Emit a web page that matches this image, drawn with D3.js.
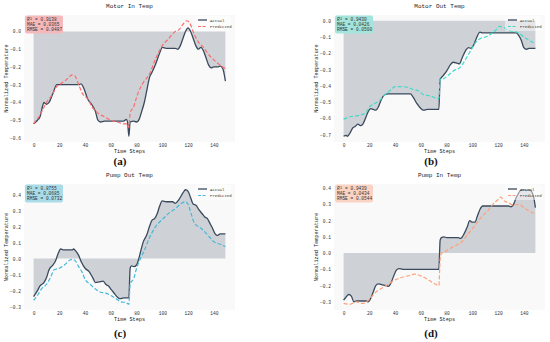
<!DOCTYPE html>
<html><head><meta charset="utf-8">
<script src="https://cdn.jsdelivr.net/npm/d3@7"></script>
<style>
html,body{margin:0;padding:0;background:#fff;}
svg{display:block;}
</style></head>
<body><svg id="chart" width="550" height="342"></svg>
<script>
// ---------------- DATA ----------------
const panelTitles = ["Motor In Temp", "Motor Out Temp", "Pump Out Temp", "Pump In Temp"];
const panelTags = ["(a)", "(b)", "(c)", "(d)"];
const seriesNames = ["Actual", "Predicted"];
const xTicks = [0, 20, 40, 60, 80, 100, 120, 140];
const statR2 = ["0.9138", "0.9430", "0.8755", "0.9439"];
const statMAE = ["0.0365", "0.0426", "0.0685", "0.0434"];
const statRMSE = ["0.0487", "0.0500", "0.0732", "0.0544"];

// (a) Motor In Temp
const motorInActualT = [0,3,5,7,8,10,12,15,18,20,25,30,35,37,39,42,45,48,50,52,55,60,65,70,72,73,74,75,78,80,82,84,86,88,90,92,95,98,100,103,106,110,112,114,116,118,120,122,124,126,128,130,132,134,136,138,140,143,145,147,149];
const motorInActual = [-0.52,-0.50,-0.48,-0.42,-0.40,-0.41,-0.40,-0.35,-0.30,-0.30,-0.30,-0.30,-0.30,-0.295,-0.32,-0.38,-0.41,-0.45,-0.50,-0.51,-0.505,-0.505,-0.505,-0.505,-0.495,-0.51,-0.59,-0.51,-0.505,-0.51,-0.495,-0.45,-0.40,-0.33,-0.26,-0.23,-0.18,-0.12,-0.09,-0.095,-0.095,-0.095,-0.10,-0.08,-0.04,0.00,0.02,0.00,-0.04,-0.08,-0.10,-0.09,-0.11,-0.15,-0.19,-0.205,-0.20,-0.20,-0.195,-0.21,-0.28];
const motorInPredT = [0,5,10,15,18,20,25,30,32,35,38,42,45,50,55,60,65,70,73,74,75,78,80,85,90,95,100,105,110,113,116,119,121,125,128,132,136,140,145,149];
const motorInPred = [-0.52,-0.47,-0.40,-0.35,-0.31,-0.30,-0.275,-0.245,-0.25,-0.30,-0.35,-0.38,-0.42,-0.46,-0.48,-0.50,-0.51,-0.52,-0.52,-0.54,-0.46,-0.42,-0.37,-0.29,-0.24,-0.15,-0.08,-0.04,0.00,0.01,0.04,0.06,0.05,-0.02,-0.06,-0.09,-0.13,-0.16,-0.19,-0.21];

// (b) Motor Out Temp
const motorOutActualT = [0,2,3,5,7,9,11,13,15,17,19,21,23,25,27,29,32,35,40,45,52,54,57,60,62,65,70,74,75,77,80,83,85,88,90,92,95,97,99,101,103,106,108,110,120,130,134,136,138,140,142,144,149];
const motorOutActual = [-0.71,-0.705,-0.71,-0.69,-0.66,-0.65,-0.635,-0.645,-0.635,-0.60,-0.56,-0.54,-0.545,-0.55,-0.53,-0.49,-0.455,-0.45,-0.45,-0.45,-0.45,-0.47,-0.51,-0.54,-0.55,-0.545,-0.545,-0.545,-0.36,-0.34,-0.31,-0.27,-0.255,-0.26,-0.265,-0.23,-0.18,-0.165,-0.17,-0.15,-0.11,-0.07,-0.075,-0.075,-0.075,-0.075,-0.075,-0.09,-0.12,-0.165,-0.175,-0.17,-0.17];
const motorOutPredT = [0,5,10,15,18,20,24,28,32,36,40,45,50,55,58,62,66,70,74,75,78,82,86,90,93,96,99,102,106,110,114,118,121,124,128,132,136,140,144,149];
const motorOutPred = [-0.605,-0.59,-0.585,-0.575,-0.56,-0.53,-0.51,-0.49,-0.455,-0.43,-0.405,-0.405,-0.41,-0.425,-0.43,-0.455,-0.46,-0.47,-0.48,-0.36,-0.355,-0.33,-0.305,-0.29,-0.26,-0.22,-0.18,-0.14,-0.11,-0.10,-0.085,-0.06,-0.035,-0.04,-0.06,-0.065,-0.075,-0.10,-0.12,-0.14];

// (c) Pump Out Temp
const pumpOutActualT = [0,3,5,8,10,12,15,17,19,21,23,25,30,31,33,35,37,40,43,46,48,51,54,56,58,60,62,65,67,70,74,75,76,78,80,81,83,85,88,90,92,94,96,98,100,103,108,110,113,116,118,120,122,124,126,128,131,133,135,137,139,141,143,145,149];
const pumpOutActual = [-0.237,-0.20,-0.17,-0.15,-0.12,-0.07,-0.04,-0.015,0.03,0.06,0.055,0.055,0.055,0.06,0.045,0.02,-0.02,-0.06,-0.08,-0.12,-0.15,-0.145,-0.14,-0.16,-0.17,-0.19,-0.21,-0.24,-0.25,-0.245,-0.245,-0.06,-0.045,-0.05,-0.04,-0.02,0.04,0.10,0.15,0.20,0.24,0.25,0.28,0.33,0.36,0.355,0.355,0.345,0.37,0.41,0.43,0.42,0.38,0.34,0.335,0.31,0.28,0.26,0.25,0.22,0.19,0.155,0.145,0.155,0.155];
const pumpOutPredT = [0,3,6,10,13,16,20,24,28,30,32,35,38,40,44,48,52,56,60,64,68,72,74,75,78,80,83,86,90,94,98,102,106,110,114,118,120,122,125,130,135,140,145,149];
const pumpOutPred = [-0.26,-0.23,-0.19,-0.16,-0.12,-0.07,-0.06,-0.04,-0.01,-0.005,-0.01,-0.05,-0.09,-0.13,-0.16,-0.19,-0.21,-0.215,-0.23,-0.25,-0.27,-0.275,-0.285,-0.16,-0.12,-0.06,0.00,0.05,0.13,0.19,0.23,0.26,0.29,0.31,0.34,0.355,0.34,0.29,0.22,0.19,0.15,0.105,0.09,0.075];

// (d) Pump In Temp
const pumpInActualT = [0,2,4,6,8,10,12,18,19,21,23,25,27,30,33,35,37,39,41,43,46,50,60,74,75,76,78,80,89,91,93,96,98,100,102,104,106,108,110,120,128,130,132,134,136,138,140,142,144,146,148,149];
const pumpInActual = [-0.29,-0.27,-0.255,-0.265,-0.30,-0.295,-0.295,-0.295,-0.30,-0.28,-0.24,-0.20,-0.19,-0.195,-0.20,-0.205,-0.18,-0.14,-0.105,-0.095,-0.10,-0.10,-0.10,-0.10,0.08,0.095,0.10,0.095,0.095,0.09,0.11,0.16,0.20,0.19,0.19,0.23,0.27,0.29,0.29,0.29,0.29,0.285,0.30,0.34,0.37,0.39,0.39,0.385,0.39,0.38,0.33,0.28];
const pumpInPredT = [0,5,10,15,20,25,30,35,40,45,50,55,60,65,70,74,75,76,78,81,84,88,92,96,100,104,108,112,116,120,122,125,128,132,136,140,144,149];
const pumpInPred = [-0.31,-0.315,-0.30,-0.31,-0.285,-0.24,-0.215,-0.19,-0.165,-0.15,-0.14,-0.13,-0.14,-0.16,-0.185,-0.20,-0.04,0.00,0.005,0.02,0.035,0.05,0.07,0.11,0.15,0.19,0.23,0.26,0.30,0.33,0.345,0.32,0.31,0.295,0.30,0.28,0.26,0.24];

const predColors = ["#ff6b6b", "#40d9c8", "#45b8d8", "#ffa07a"];
const boxColors = ["#f6b9bb", "#a3e4dc", "#a9dbe8", "#fad3c3"];

// ---------------- LAYOUT ----------------
const panels = [
  {x0: 24, x1: 235, y0: 15, y1: 142, tagX: 120, tagY: 165, at: motorInActualT, av: motorInActual, pt: motorInPredT, pv: motorInPred},
  {x0: 334, x1: 545, y0: 15, y1: 142, tagX: 431, tagY: 165, at: motorOutActualT, av: motorOutActual, pt: motorOutPredT, pv: motorOutPred},
  {x0: 24, x1: 235, y0: 184, y1: 310, tagX: 120, tagY: 337, at: pumpOutActualT, av: pumpOutActual, pt: pumpOutPredT, pv: pumpOutPred},
  {x0: 334, x1: 545, y0: 184, y1: 310, tagX: 431, tagY: 337, at: pumpInActualT, av: pumpInActual, pt: pumpInPredT, pv: pumpInPred}
];

const svg = d3.select("#chart");
const mono = "'Liberation Mono', 'DejaVu Sans Mono', monospace";
const fmt = v => d3.format(".1f")(v).replace("-", "\u2212");

panels.forEach((p, i) => {
  const g = svg.append("g");
  const x = d3.scaleLinear().domain([-7.45, 156.45]).range([p.x0, p.x1]);
  const all = p.av.concat(p.pv, [0]);
  const lo = d3.min(all), hi = d3.max(all), m = (hi - lo) * 0.05;
  const y = d3.scaleLinear().domain([lo - m, hi + m]).range([p.y1, p.y0]);

  // plot background
  g.append("rect").attr("x", p.x0).attr("y", p.y0).attr("width", p.x1 - p.x0).attr("height", p.y1 - p.y0).attr("fill", "#f9f9fa");

  const actual = p.at.map((t, k) => ({t, v: p.av[k]}));
  const pred = p.pt.map((t, k) => ({t, v: p.pv[k]}));

  // fill between actual and 0
  g.append("path").datum(actual)
    .attr("d", d3.area().x(d => x(d.t)).y0(y(0)).y1(d => y(d.v)).curve(d3.curveMonotoneX))
    .attr("fill", "#ced2d7");

  // actual line
  g.append("path").datum(actual)
    .attr("d", d3.line().x(d => x(d.t)).y(d => y(d.v)).curve(d3.curveMonotoneX))
    .attr("fill", "none").attr("stroke", "#3a4a5c").attr("stroke-width", 1.3);

  // predicted line
  g.append("path").datum(pred)
    .attr("d", d3.line().x(d => x(d.t)).y(d => y(d.v)).curve(d3.curveMonotoneX))
    .attr("fill", "none").attr("stroke", predColors[i]).attr("stroke-width", 1.2)
    .attr("stroke-dasharray", "4,2");

  // axes
  const yt = d3.range(Math.ceil((lo - m) * 10), Math.floor((hi + m) * 10) + 1).map(k => k / 10);
  const xa = g.append("g").attr("transform", `translate(0,${p.y1})`)
    .call(d3.axisBottom(x).tickValues(xTicks).tickSize(0).tickPadding(2));
  const ya = g.append("g").attr("transform", `translate(${p.x0},0)`)
    .call(d3.axisLeft(y).tickValues(yt).tickFormat(fmt).tickSize(0).tickPadding(3));
  [xa, ya].forEach(a => {
    a.select(".domain").remove();
    a.selectAll("text").attr("font-family", mono).attr("font-size", 4.6).attr("fill", "#333");
  });

  // titles and labels
  g.append("text").attr("x", (p.x0 + p.x1) / 2).attr("y", p.y0 - 7)
    .attr("text-anchor", "middle").attr("font-family", mono).attr("font-size", 6).attr("fill", "#222")
    .text(panelTitles[i]);
  g.append("text").attr("x", (p.x0 + p.x1) / 2).attr("y", p.y1 + 11)
    .attr("text-anchor", "middle").attr("font-family", mono).attr("font-size", 5.2).attr("fill", "#222")
    .text("Time Steps");
  g.append("text").attr("transform", `translate(${p.x0 - 16},${(p.y0 + p.y1) / 2}) rotate(-90)`)
    .attr("text-anchor", "middle").attr("font-family", mono).attr("font-size", 5.2).attr("fill", "#222")
    .text("Normalized Temperature");
  g.append("text").attr("x", p.tagX).attr("y", p.tagY)
    .attr("text-anchor", "middle").attr("font-family", "'Liberation Serif', 'DejaVu Serif', serif")
    .attr("font-size", 11).attr("font-weight", "bold").attr("fill", "#111")
    .text(panelTags[i]);

  // stats box
  const bx = p.x0 + 1, by = p.y0 + 0.5;
  g.append("rect").attr("x", bx).attr("y", by).attr("width", 38).attr("height", 18).attr("rx", 2)
    .attr("fill", boxColors[i]);
  const st = g.append("text").attr("font-family", mono).attr("font-size", 4.5).attr("fill", "#333");
  const l1 = st.append("tspan").attr("x", bx + 2).attr("y", by + 5.3);
  l1.append("tspan").attr("font-style", "italic").text("R");
  l1.append("tspan").text("\u00b2 = " + statR2[i]);
  st.append("tspan").attr("x", bx + 2).attr("y", by + 10.3).text("MAE = " + statMAE[i]);
  st.append("tspan").attr("x", bx + 2).attr("y", by + 15.3).text("RMSE = " + statRMSE[i]);

  // legend
  const lx = p.x1 - 37, ly = p.y0 + 5;
  g.append("rect").attr("x", lx - 3).attr("y", p.y0 + 1).attr("width", 36).attr("height", 15)
    .attr("fill", "#fff").attr("opacity", 0.45).attr("rx", 1.5);
  g.append("line").attr("x1", lx).attr("x2", lx + 9).attr("y1", ly).attr("y2", ly)
    .attr("stroke", "#3a4a5c").attr("stroke-width", 1.3);
  g.append("line").attr("x1", lx).attr("x2", lx + 9).attr("y1", ly + 6.5).attr("y2", ly + 6.5)
    .attr("stroke", predColors[i]).attr("stroke-width", 1.2).attr("stroke-dasharray", "3,1.5");
  g.append("text").attr("x", lx + 12).attr("y", ly + 1.5).attr("font-family", mono).attr("font-size", 4).attr("fill", "#333").text(seriesNames[0]);
  g.append("text").attr("x", lx + 12).attr("y", ly + 8).attr("font-family", mono).attr("font-size", 4).attr("fill", "#333").text(seriesNames[1]);
});
</script>
</body></html>
